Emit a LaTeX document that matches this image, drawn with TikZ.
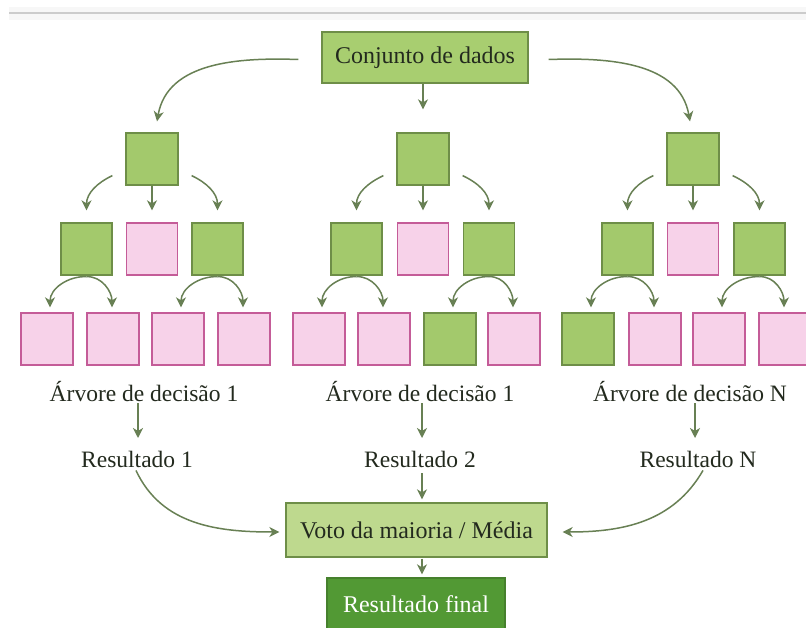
\documentclass[tikz,border=0pt]{standalone}
\usepackage{fontspec}
\setmainfont{Liberation Serif}
\usetikzlibrary{arrows.meta}
\definecolor{gfill}{RGB}{163,201,108}
\definecolor{gline}{RGB}{110,142,72}
\definecolor{cfill}{RGB}{168,206,112}
\definecolor{vfill}{RGB}{190,217,142}
\definecolor{pfill}{RGB}{247,210,233}
\definecolor{pline}{RGB}{196,92,152}
\definecolor{ffill}{RGB}{82,153,52}
\definecolor{fline}{RGB}{70,128,45}
\definecolor{arrc}{RGB}{104,128,84}
\definecolor{txt}{RGB}{35,42,30}
\tikzset{
  sq/.style={minimum width=52pt,minimum height=52pt,inner sep=0pt,line width=1.3pt},
  gsq/.style={sq,fill=gfill,draw=gline},
  psq/.style={sq,fill=pfill,draw=pline},
  tbox/.style={inner sep=0pt,line width=1.3pt,text=txt,font=\fontsize{24}{28}\selectfont},
  lbl/.style={inner sep=0pt,anchor=base,text=txt,font=\fontsize{23.5}{28}\selectfont},
  arr/.style={draw=arrc,line width=1.5pt,-{Stealth[length=10pt,width=10pt,inset=3pt]}},
}
\begin{document}
\begin{tikzpicture}[x=1pt,y=-1pt]
\useasboundingbox (0,0) rectangle (806,628);
\fill[white] (0,0) rectangle (806,628);
\fill[gray!6] (9,7) rectangle (806,20);
\draw[gray!40,line width=2pt] (9,13) -- (806,13);
% top box
\node[tbox,fill=cfill,draw=gline,minimum width=206pt,minimum height=51pt] (conj) at (425,57.5) {Conjunto de dados};
% level 1
\node[gsq] (a1) at (152,159) {};
\node[gsq] (b1) at (423,159) {};
\node[gsq] (c1) at (693,159) {};
% level 2
\node[gsq,minimum width=51pt] (a2l) at (86.5,249) {};
\node[psq,minimum width=51pt] (a2m) at (152,249) {};
\node[gsq,minimum width=51pt] (a2r) at (217.5,249) {};
\node[gsq,minimum width=51pt] (b2l) at (356.5,249) {};
\node[psq,minimum width=51pt] (b2m) at (423,249) {};
\node[gsq,minimum width=51pt] (b2r) at (489,249) {};
\node[gsq,minimum width=51pt] (c2l) at (627.5,249) {};
\node[psq,minimum width=51pt] (c2m) at (693,249) {};
\node[gsq,minimum width=51pt] (c2r) at (759.5,249) {};
% level 3
\node[psq] (a31) at (47,339) {};
\node[psq] (a32) at (113,339) {};
\node[psq] (a33) at (178,339) {};
\node[psq] (a34) at (244,339) {};
\node[psq] (b31) at (319,339) {};
\node[psq] (b32) at (384,339) {};
\node[gsq] (b33) at (450,339) {};
\node[psq] (b34) at (514,339) {};
\node[gsq] (c31) at (588,339) {};
\node[psq] (c32) at (655,339) {};
\node[psq] (c33) at (719,339) {};
\node[psq] (c34) at (785,339) {};
% labels
\node[lbl] (ta) at (144,401) {Árvore de decisão 1};
\node[lbl] (tb) at (420,401) {Árvore de decisão 1};
\node[lbl] (tc) at (690,401) {Árvore de decisão N};
\node[lbl] (ra) at (137,467) {Resultado 1};
\node[lbl] (rb) at (420,467) {Resultado 2};
\node[lbl] (rc) at (698,467) {Resultado N};
% bottom boxes
\node[tbox,fill=vfill,draw=gline,minimum width=261pt,minimum height=54pt] (voto) at (416.5,530) {Voto da maioria / Média};
\node[tbox,fill=ffill,draw=fline,text=white,minimum width=178pt,minimum height=52pt] (fin) at (416,604) {Resultado final};
% arrows from top
\draw[arr] ([xshift=-23pt,yshift=-2pt]conj.west) to[out=178,in=80] ([xshift=5pt,yshift=11pt]a1.north);
\draw[arr] ([xshift=-2pt]conj.south) -- ([yshift=23pt]b1.north);
\draw[arr] ([xshift=20pt,yshift=-2pt]conj.east) to[out=2,in=100] ([xshift=-3pt,yshift=11pt]c1.north);
% level1 -> level2
\foreach \p/\l/\m/\r in {a1/a2l/a2m/a2r,b1/b2l/b2m/b2r,c1/c2l/c2m/c2r}{
  \draw[arr] ([xshift=-13pt,yshift=10pt]\p.south west) to[out=205,in=90] ([yshift=12pt]\l.north);
  \draw[arr] (\p.south) -- ([yshift=12pt]\m.north);
  \draw[arr] ([xshift=13pt,yshift=10pt]\p.south east) to[out=-25,in=90] ([yshift=12pt]\r.north);
}
% level2 -> level3
\foreach \p/\l/\r in {a2l/a31/a32,a2r/a33/a34,b2l/b31/b32,b2r/b33/b34,c2l/c31/c32,c2r/c33/c34}{
  \draw[arr] ([yshift=-1pt]\p.south) to[out=178,in=90] ([xshift=3pt,yshift=5pt]\l.north);
  \draw[arr] ([yshift=-1pt]\p.south) to[out=2,in=90] ([xshift=-1pt,yshift=5pt]\r.north);
}
% labels -> results
\draw[arr] ([xshift=-6pt,yshift=-2pt]ta.south) -- ([xshift=1pt,yshift=29pt]ra.base);
\draw[arr] ([xshift=2pt,yshift=-2pt]tb.south) -- ([xshift=2pt,yshift=29pt]rb.base);
\draw[arr] ([xshift=5pt,yshift=-2pt]tc.south) -- ([xshift=-3pt,yshift=29pt]rc.base);
% results -> voto
\draw[arr] ([xshift=2pt,yshift=-6pt]rb.south) -- ([xshift=5.5pt,yshift=3pt]voto.north);
\draw[arr] ([xshift=-1pt,yshift=-3pt]ra.south) to[out=-65,in=180] ([xshift=-6pt,yshift=-2pt]voto.west);
\draw[arr] ([xshift=5pt,yshift=-3pt]rc.south) to[out=240,in=0] ([xshift=15pt,yshift=-2pt]voto.east);
% voto -> final
\draw[arr] ([xshift=5.5pt,yshift=-1pt]voto.south) -- ([xshift=6pt,yshift=3pt]fin.north);
\end{tikzpicture}
\end{document}
